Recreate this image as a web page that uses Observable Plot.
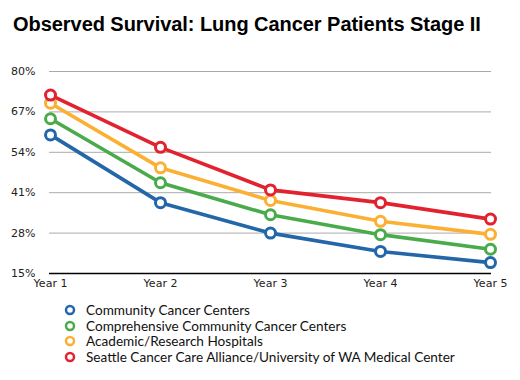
<!DOCTYPE html>
<html><head><meta charset="utf-8">
<script src="https://cdn.jsdelivr.net/npm/d3@7"></script>
<script src="https://cdn.jsdelivr.net/npm/@observablehq/plot@0.6"></script>
<style>
body{margin:0;background:#fff;width:520px;height:380px;overflow:hidden;font-family:"DejaVu Sans",sans-serif;}
#title{position:absolute;left:13px;top:13px;font:bold 20px "Liberation Sans",Arial,sans-serif;color:#000;letter-spacing:-0.05px;white-space:nowrap;}
#chart{position:absolute;left:0;top:50px;}
#legend{position:absolute;left:63px;top:302px;font:13.6px Lato,"Open Sans",sans-serif;color:#111;}
.li{display:flex;align-items:center;height:15.7px;}
.li svg{margin-right:9px;}
</style></head>
<body>
<div id="title">Observed Survival: Lung Cancer Patients Stage II</div>
<div id="chart"></div>
<div id="legend"></div>
<script>
const years = ["Year 1","Year 2","Year 3","Year 4","Year 5"];
const seriesNames = ["Community Cancer Centers","Comprehensive Community Cancer Centers","Academic/Research Hospitals","Seattle Cancer Care Alliance/University of WA Medical Center"];
const colors = ["#2367a9","#4aab4b","#fbb034","#e3222f"];
const community = [59.6, 37.8, 28.0, 22.1, 18.5];
const comprehensive = [64.8, 44.2, 33.9, 27.5, 22.8];
const academic = [69.8, 49.0, 38.5, 31.8, 27.6];
const seattle = [72.4, 55.6, 41.9, 37.8, 32.5];
const yTicks = [15, 28, 41, 54, 67, 80];

const allSeries = [community, comprehensive, academic, seattle];
const data = [];
allSeries.forEach((vals, i) => vals.forEach((v, j) => data.push({series: seriesNames[i], year: years[j], value: v})));

const chart = Plot.plot({
  width: 520, height: 240,
  marginLeft: 49, marginRight: 29, marginTop: 21, marginBottom: 17,
  style: {fontFamily: "DejaVu Sans, sans-serif", fontSize: "11px", color: "#222"},
  x: {type: "point", domain: years, label: null, padding: 0},
  y: {domain: [15, 80], label: null},
  color: {domain: seriesNames, range: colors},
  marks: [
    Plot.ruleY(yTicks.filter(d => d > 15), {stroke: "#aaa", strokeWidth: 1}),
    Plot.ruleY([15], {stroke: "#000", strokeWidth: 1.5}),
    Plot.axisY({ticks: yTicks, tickFormat: d => d + "%", tickSize: 0, tickPadding: 14, label: null}),
    Plot.axisX({tickSize: 0, tickPadding: 6, label: null}),
    Plot.line(data, {x: "year", y: "value", z: "series", stroke: "series", strokeWidth: 3.6}),
    Plot.dot(data, {x: "year", y: "value", stroke: "series", fill: "white", r: 5, strokeWidth: 3})
  ]
});
document.getElementById("chart").appendChild(chart);

const legend = document.getElementById("legend");
seriesNames.forEach((name, i) => {
  const row = document.createElement("div");
  row.className = "li";
  row.innerHTML = `<svg width="14" height="14"><circle cx="7" cy="7" r="4" fill="white" stroke="${colors[i]}" stroke-width="2.5"/></svg><span>${name}</span>`;
  legend.appendChild(row);
});
</script>
</body></html>
